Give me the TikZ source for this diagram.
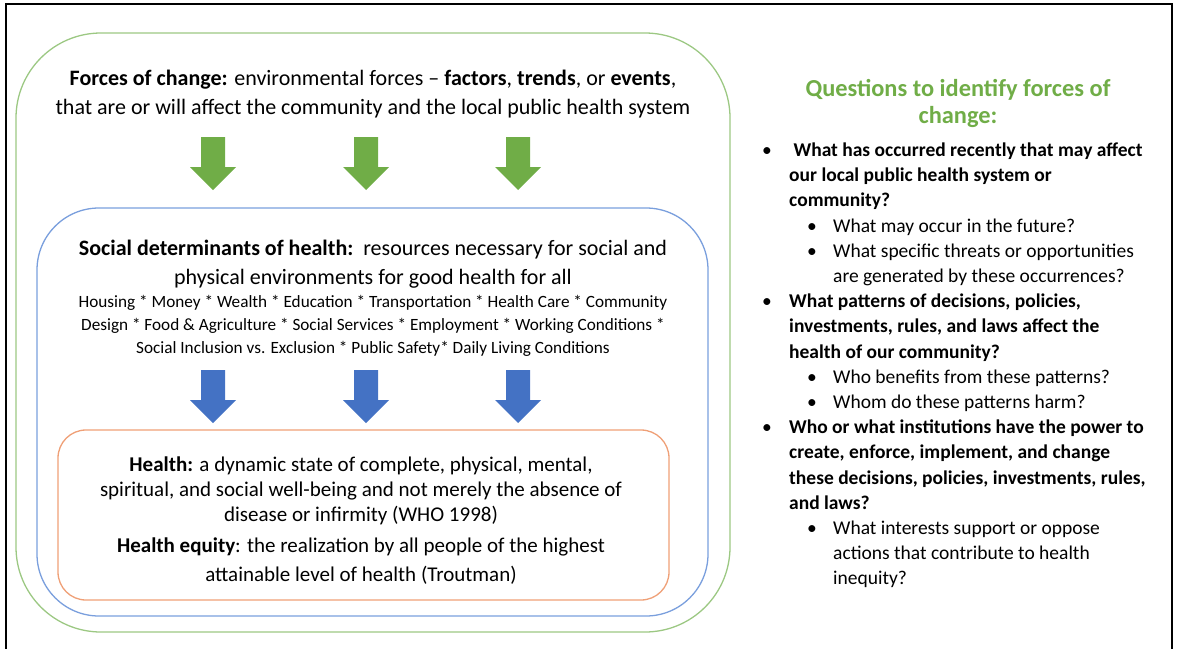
\documentclass[tikz,border=0pt]{standalone}
\usepackage{fontspec}
\setmainfont{Carlito}
\usetikzlibrary{positioning}
\definecolor{fgreen}{HTML}{70AD47}
\definecolor{fblue}{HTML}{4472C4}
\definecolor{lgreen}{HTML}{9CC883}
\definecolor{lblue}{HTML}{7A9FDD}
\definecolor{lorange}{HTML}{EFA077}
\newcommand{\bigtxt}{\fontsize{22}{29}\selectfont}
\newcommand{\midtxt}{\fontsize{21}{25}\selectfont}
\newcommand{\eqtxt}{\fontsize{21}{29}\selectfont}
\newcommand{\smalltxt}{\fontsize{17.2}{23}\selectfont}
\newcommand{\listtxt}{\fontsize{19.5}{25.2}\selectfont}

\begin{document}
\begin{tikzpicture}[x=1pt,y=-1pt,
  frame/.style={line width=1.4pt},
  outerbox/.style={draw=lgreen,line width=1.3pt,rounded corners=85pt},
  midbox/.style={draw=lblue,line width=1.3pt,rounded corners=62pt},
  innerbox/.style={draw=lorange,line width=1.3pt,rounded corners=28pt},
  centered/.style={anchor=base,inner sep=0pt,align=center},
  listline/.style={anchor=base west,inner sep=0pt,align=left,font=\listtxt}]
\useasboundingbox (0,0) rectangle (1178,648);
\draw[frame] (6,660) -- (6,4) -- (1172,4) -- (1172,660);

% nested boxes
\draw[outerbox] (16,33) rectangle (730,632);
\draw[midbox] (37,208) rectangle (708,616);
\draw[innerbox] (58,430) rectangle (669,600);

% block arrows
\foreach \ax in {213,366,518}{
  \fill[fgreen] (\ax-12,137) -- (\ax+12,137) -- (\ax+12,167) -- (\ax+23,167)
    -- (\ax,190) -- (\ax-23,167) -- (\ax-12,167) -- cycle;
  \fill[fblue] (\ax-12,370) -- (\ax+12,370) -- (\ax+12,400) -- (\ax+23,400)
    -- (\ax,423) -- (\ax-23,400) -- (\ax-12,400) -- cycle;
}

% texts of the boxes (anchored at the last baseline)
\node[centered,font=\bigtxt] (forces) at (373,114)
  {\textbf{Forces of change:} environmental forces -- \textbf{factors}, \textbf{trends}, or \textbf{events},\\
   that are or will affect the community and the local public health system};
\node[centered,font=\bigtxt] (sdoh) at (373,284)
  {\textbf{Social determinants of health:}\ \ resources necessary for social and\\
   physical environments for good health for all};
\node[centered,font=\smalltxt] (sdohlist) at (373,353)
  {Housing * Money * Wealth * Education * Transportation * Health Care * Community\\
   Design * Food \& Agriculture * Social Services * Employment * Working Conditions *\\
   Social Inclusion vs. Exclusion * Public Safety* Daily Living Conditions};
\node[centered,font=\midtxt] (health) at (361,521)
  {\textbf{Health:} a dynamic state of complete, physical, mental,\\
   spiritual, and social well-being and not merely the absence of\\
   disease or infirmity (WHO 1998)};
\node[centered,font=\eqtxt] (equity) at (361,581)
  {\textbf{Health equity}: the realization by all people of the highest\\
   attainable level of health (Troutman)};

% questions
\node[centered,font=\fontsize{24.4}{27}\selectfont\bfseries,text=fgreen] (qtitle) at (958,123)
  {Questions to identify forces of\\ change:};
\node[listline] (b1) at (762,156.5) {\textbullet};
\node[listline] (q1) at (789,206.9) {\textbf{\ What has occurred recently that may affect}\\
  \textbf{our local public health system or}\\ \textbf{community?}};
\node[listline] (b1a) at (807,232.1) {\textbullet};
\node[listline] (q1a) at (833,232.1) {What may occur in the future?};
\node[listline] (b1b) at (807,257.3) {\textbullet};
\node[listline] (q1b) at (833,282.5) {What specific threats or opportunities\\
  are generated by these occurrences?};
\node[listline] (b2) at (762,307.7) {\textbullet};
\node[listline] (q2) at (789,358.1) {\textbf{What patterns of decisions, policies,}\\
  \textbf{investments, rules, and laws affect the}\\ \textbf{health of our community?}};
\node[listline] (b2a) at (807,383.3) {\textbullet};
\node[listline] (q2a) at (833,383.3) {Who benefits from these patterns?};
\node[listline] (b2b) at (807,408.5) {\textbullet};
\node[listline] (q2b) at (833,408.5) {Whom do these patterns harm?};
\node[listline] (b3) at (762,433.7) {\textbullet};
\node[listline] (q3) at (789,509.3) {\textbf{Who or what institutions have the power to}\\
  \textbf{create, enforce, implement, and change}\\
  \textbf{these decisions, policies, investments, rules,}\\ \textbf{and laws?}};
\node[listline] (b3a) at (807,534.5) {\textbullet};
\node[listline] (q3a) at (833,584.9) {What interests support or oppose\\
  actions that contribute to health\\ inequity?};
\end{tikzpicture}
\end{document}
